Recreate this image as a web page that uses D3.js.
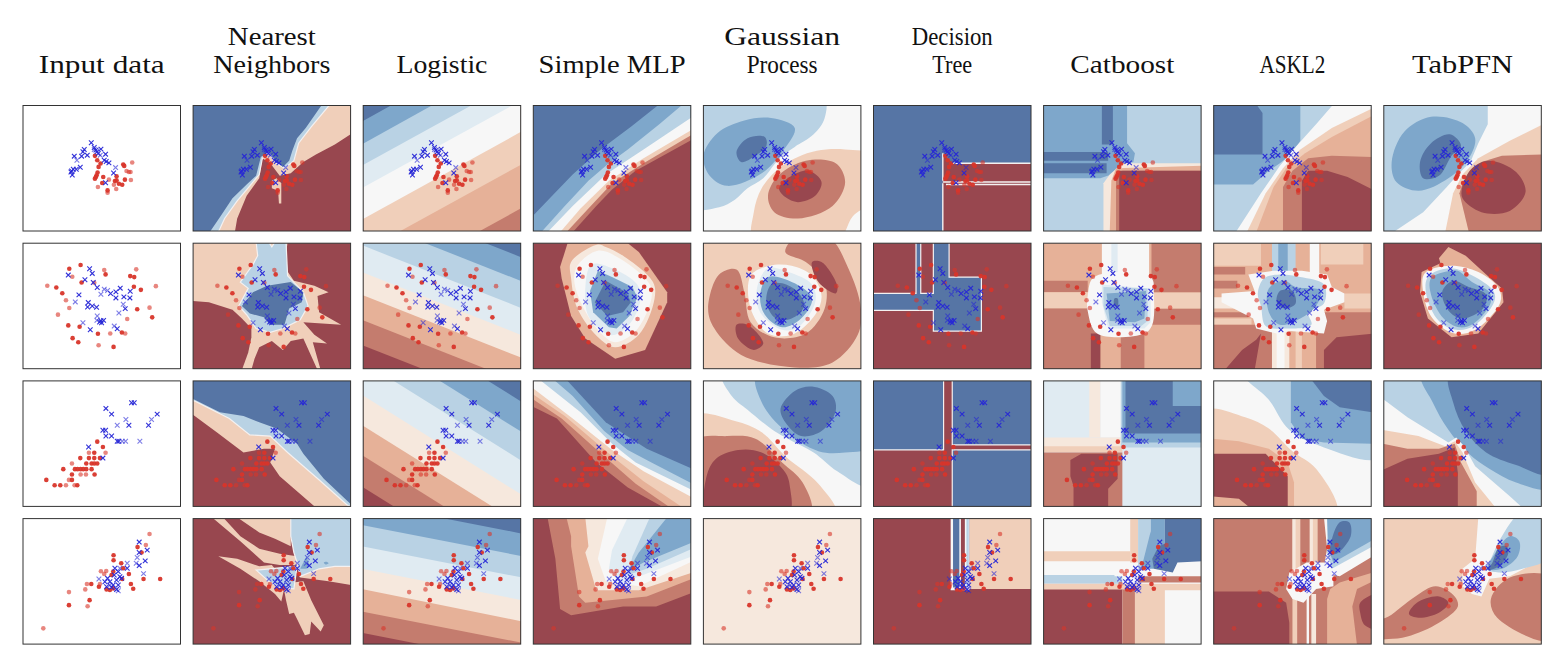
<!DOCTYPE html>
<html><head><meta charset="utf-8">
<script src="https://cdn.jsdelivr.net/npm/d3@7"></script>
<style>html,body{margin:0;padding:0;background:#fff}svg{display:block}</style>
</head><body><svg id="c" width="1567" height="666"></svg>
<script>
const titles=[["Input data"],["Nearest","Neighbors"],["Logistic"],["Simple MLP"],["Gaussian","Process"],["Decision","Tree"],["Catboost"],["ASKL2"],["TabPFN"]];
const titleWidths=[[126],[88,117],[91],[147],[116,71],[81,40],[104],[66],[101]];
const levelColors=["#98474f","#c47c6e","#e6b198","#f0cfba","#f6e8dd","#f7f7f7","#e0ebf2","#b9d2e4","#7ea7cb","#5675a5"];
const P=0,S=1,W=2,K=3;
const full=[-1,-1,101,-1,101,101,-1,101];
const rect=(a,b,c,d)=>[a,b,c,b,c,d,a,d];

/* scatter points, read in the units of the enlarged input-data panels */
const blue1=[[229,128],[238,142],[243,150],[246,155],[250,160],[258,147],[272,162],[268,180],[274,184],[282,188],[208,148],[204,155],[200,168],[217,165],[178,168],[196,201],[184,207],[175,207],[170,212],[172,224],[168,215],[272,247],[296,218]];
const blueT1=[[186,180],[238,148],[302,202],[256,165]];
const red1=[[240,167],[247,180],[257,190],[251,200],[325,193],[328,197],[248,217],[245,225],[240,235],[243,230],[265,230],[305,228],[305,240],[300,242],[262,248],[322,253],[330,238],[278,270],[312,250]];
const redT1=[[352,187],[335,212],[347,215],[342,215],[282,238],[348,239],[297,253],[304,266],[249,260],[278,277]];
const blue2=[[224,91],[232,105],[160,110],[210,124],[235,132],[247,147],[192,169],[287,165],[303,160],[316,149],[346,158],[327,175],[303,178],[345,178],[220,192],[218,205],[232,202],[245,206],[331,210],[226,273],[307,270],[258,246],[266,245],[260,252],[254,250]];
const blueT2=[[268,152],[278,156],[258,167],[181,190],[325,197],[312,223],[247,232],[246,245],[204,252],[298,262]];
const red2=[[163,91],[197,80],[272,108],[346,113],[358,116],[357,145],[378,154],[124,147],[142,164],[200,132],[367,212],[412,236],[160,260],[194,264],[249,285],[321,281],[173,298],[190,310],[296,324]];
const redT2=[[268,95],[172,115],[364,93],[97,142],[423,143],[153,185],[163,208],[404,207],[129,228],[337,241],[286,284],[331,284],[251,319],[238,133]];
const blue3=[[273,95],[290,112],[350,78],[358,78],[427,112],[342,145],[401,145],[264,160],[272,160],[273,177],[290,177],[307,193],[312,193],[221,210],[264,243]];
const blueT3=[[333,128],[410,128],[307,145],[332,193],[322,193],[375,193]];
const red3=[[247,194],[264,210],[238,227],[196,243],[222,243],[238,243],[255,243],[214,259],[230,259],[238,259],[247,259],[145,276],[180,276],[188,276],[197,276],[205,276],[214,276],[230,276],[171,292],[239,292],[94,308],[171,308],[119,324],[136,324],[187,324]];
const redT3=[[222,227],[272,227],[171,259],[197,292],[213,292],[162,308],[153,324],[179,324]];
const blue4=[[373,87],[397,111],[373,118],[391,143],[373,157],[300,165],[337,165],[278,195],[310,175],[315,190],[305,200],[285,205],[270,205],[295,215],[310,215],[275,220],[290,222],[305,228],[320,195],[298,185]];
const blueT4=[[367,133],[364,150],[337,150],[386,181],[252,197],[310,232],[285,215],[315,165]];
const red4=[[368,102],[296,126],[296,141],[319,150],[325,165],[295,175],[290,185],[342,182],[322,197],[229,212],[252,220],[348,212],[355,226],[386,197],[436,197],[275,228],[285,230],[295,225],[224,260],[162,275],[380,118]];
const redT4=[[404,63],[393,96],[258,174],[274,173],[268,182],[216,212],[211,228],[255,212],[162,236],[218,278],[85,344]];
const pointTop=[17,15,13,17];

/* decision regions: [level, outline kind, outline in % of the panel] painted in order */
const nn1=[[0,P,full],
 [3,P,[88,-1,101,-1,101,22,90,31,78,39,70,45,62,54,55,56,49,46,44,42,42,58,34,72,28,90,26.5,101,10,101,40,40]],
 [3,P,[50,60,53,58,56,62,56,78,54.5,78,54,68,50,66]],
 [7,W,[-1,-1,87,-1,75,17,67,30,64,44,58,50,53,46,48,38,44,42,42,55,36,64,28,76,20,90,16,101,-1,101]],
 [9,P,[-1,-1,82,-1,71.5,18,66,26,63,36,61,44,57,49,53,45,48,37,43,41,40,56,34,63,25,74,17,89,10.5,101,-1,101]]];
const log1=[[1,P,full],
 [2,P,[-1,-1,220,-1,-1,152]],[3,P,[-1,-1,170,-1,-1,117]],[5,P,[-1,-1,132,-1,-1,91]],
 [6,P,[-1,-1,96,-1,-1,66]],[7,P,[-1,-1,70,-1,-1,48]],[8,P,[-1,-1,45,-1,-1,31]],[9,P,[-1,-1,19,-1,-1,13]]];
const mlp1=[[9,P,full],
 [8,P,[-1,89,12,72,25,55,40,38,48,30,62,17,80,-1,101,-1,101,101,-1,101]],
 [7,P,[5,101,20,80,35,60,47,47,60,35,80,15,95,-1,101,-1,101,101]],
 [5,P,[9,101,25,80,46,55,70,35,101,9,101,101]],
 [3,P,[17,101,30,82,48,60,70,42,101,19,101,101]],
 [1,P,[21,101,35,82,50,62,70,46,101,23,101,101]],
 [0,P,[25,101,40,80,50,67,65,52,101,27,101,101]]];
const gp1=[[5,P,full],
 [7,S,[-8,-8,76,-8,77,10,70,23,58,33,50,40,45,47,38,58,28,66,20,75,10,81,-8,81]],
 [8,S,[26,12,43,10,58,18,50,37,37,54,15,64,4,56,0,40,9,22]],
 [9,S,[21,37,28,26,39,25,40,32,33,40,24,45]],
 [3,S,[32,108,32,85,37,66,48,50,60,41,72,36,90,35,108,40,108,75,95,88,85,108]],
 [1,S,[41,72,47.5,56,65,44,84,46,90,61,82,80,60,90,45,85]],
 [0,S,[48,66,56,56,67,52,75,61,71,72,60,77,52,73]]];
const dt1=[[9,P,full],
 [0,P,[44,38,47,42,50,46,101,46,101,101,44,101]],
 [0,K,[50,46,101,46]],[0,K,[44,61,101,61]],[0,K,[46,63,101,63]],[0,K,[44,62,44,101]],[0,K,[44,38,44,60]]];
const cat1=[[7,P,full],
 [8,P,[-1,-1,53,-1,53,30,58,38,57,45,50,47,43,55,36,58,-1,58]],
 [9,P,rect(37,-1,44,31)],[9,P,rect(-1,37,41,44)],[9,P,rect(-1,46,40,54)],
 [4,P,[38,101,38,62,42,55,50,46,101,46,101,101]],
 [2,P,[42,101,43,60,46,50,101,48,101,101]],
 [1,P,[46,101,46,55,50,52,101,52,101,101]],
 [0,P,[48,101,48,52,101,52,101,101]]];
const ask1=[[7,P,full],
 [8,P,[-1,-1,55,-1,55,28,50,38,42,46,35,52,25,63,-1,63]],
 [9,P,[-1,-1,27,-1,31,6,31,39,-1,39]],
 [5,P,[14,101,30,70,42,48,52,33,65,15,76,-1,101,-1,101,101]],
 [3,P,[21,101,33,70,44,50,55,35,75,18,101,2,101,101]],
 [2,P,[27,101,38,65,46,50,58,38,75,25,101,8,101,101]],
 [1,P,[44,101,44,65,50,52,60,42,75,40,101,41,101,101]],
 [0,P,[56,101,56,60,60,52,72,52,85,57,101,67,101,101]]];
const tab1=[[5,P,full],
 [7,P,[-1,-1,66,-1,66,15,60,30,55,45,47,55,40,65,25,85,6,101,-1,101]],
 [3,P,[39,101,44,70,50,55,60,42,80,28,101,15,101,101]],
 [1,P,[54,101,48,70,50,62,55,52,62,45,75,40,101,39,101,101]],
 [0,S,[67,44,84,53,90,69,80,84,62,85,50,74,50,64,56,50]],
 [8,S,[5,45,13,21,30,9,50,14,58,26,54,42,41,58,22,68,8,61]],
 [9,S,[23,45,30,30,42,23,49,32,43,40,35,56,25,58]]];

const nn2=[[3,P,full],
 [0,P,[60,-1,58,19,64,30,77,34,86,39,79,42,80,55,94,65,70,63,77,73,85,80,76,79,81,101,101,101,101,-1]],
 [0,P,[-1,46,10,47,25,53,31,60,37,68,37,75,35,87,31,101,-1,101]],
 [0,P,[37,101,39,92,42,83,50,78,57,85,62,78,70,76,79,101]],
 [7,W,[40,-1,41,10,38,17,30,31,35,36,29,50,34,57,40,68,49,71,57,68,68,61,73,50,70,39,60,26,59,-1,52,-1,50,3,48,-1]],
 [9,P,[31,50,38,39,47,34,62,31,70,39,69,47,61,52,58,65,49,65,45,59,36,56]]];
const log2=[[0,P,full],
 [1,P,[-1,81,101,131.5,101,-90,-1,-90]],[2,P,[-1,61,101,111.5,101,-90,-1,-90]],[4,P,[-1,41,101,91.5,101,-90,-1,-90]],
 [6,P,[-1,23,101,73.5,101,-90,-1,-90]],[7,P,[-1,1.5,101,52,101,-90,-1,-90]],[8,P,[-1,-20,101,30.5,101,-90,-1,-90]],[9,P,[-1,-39,101,11.5,101,-90,-1,-90]]];
const mlp2=[[0,P,full],
 [2,P,[22,-1,17,19,18,28,24,58,33,76,52,92,71,85,85,47,85,39,67,7,59,-1]],
 [4,S,[41,1,24,15,24,28,28,52,42,76,52,83,67,73,77,44,76,31,57,10,46,3]],
 [5,S,[41,6,28,18,26,30,32,52,44,73,52,79,65,70,75,44,74,33,56,13]],
 [6,S,[37,17,33,36,35,58,46,72,52,73,62,63,68,45,66,33,50,20]],
 [8,P,[41,22,36,38,38,55,48,67,53,68,61,58,66,43,63,35,50,27]],
 [9,P,[46,30,39,47,47,58,57,55,62,47,59,39]]];
const gp2=[[3,P,full],
 [1,S,[3,52,10,25,21,21,26,39,30,63,45,75,65,72,77,52,77,31,65,15,52,7,58,-4,80,-4,92,20,100,52,98,73,82,95,58,99,24,89,7,68]],
 [0,S,[69,15,75,15,85,34,84,40,73,31]],
 [0,S,[21,65,28,65,38,80,32,85,22,76]],
 [5,S,[42,18,30,26,30,52,41,72,56,73,71,57,75,42,69,26,56,18]],
 [6,S,[41,20,34,36,36,55,50,69,60,67,71,47,69,33,54,23]],
 [8,S,[41,27,36,42,39,57,50,67,62,60,69,44,58,32]],
 [9,S,[43,33,40,47,46,60,56,60,64,50,60,39,50,32]]];
const dt2=[[0,P,full],
 [9,W,[38,-1,48,-1,48,27,68.5,27,68.5,70,38,70,38,53.5,-1,53.5,-1,40,27,40,27,-1,30,-1,30,40,38,40]]];
const cat2=[[2,P,full],
 [1,P,rect(-1,30,28,39)],[3,P,rect(-1,39,30,52)],[1,P,rect(-1,52,101,101)],
 [2,P,rect(64,65,101,101)],[3,P,rect(68,39,101,52)],[1,P,rect(68.5,-1,101,39)],
 [5,P,rect(37,-1,67,30)],[6,P,rect(43,-1,47,30)],
 [2,P,rect(36,72,49,101)],[0,P,rect(30,72,36,101)],
 [5,S,[32,27,68,27,70,42,69,65,64,72,34,72,28,54,28,42]],
 [6,P,[37,33,68,36,68,63,64,68,41,68,37,47]],
 [7,P,[38,35,66,36,66,62,62,66,42,66,38,50]],
 [8,P,[40,40,65,38,64,60,58,63,42,62]],
 [9,S,[45,44,47,44,47,50,45,50]]];
const ask2=[[2,P,full],
 [3,P,rect(-1,-1,30,18)],[3,P,rect(68,-1,95,17)],[5,P,rect(61,-1,67,25)],
 [1,P,rect(-1,19,20,25)],[1,P,rect(-1,30,15,36)],[4,P,rect(-1,43,22,52)],[1,P,rect(-1,55,22,59)],[3,P,rect(-1,60,24,65)],
 [1,P,rect(-1,65,40,101)],[1,P,rect(65,55,101,101)],[3,P,rect(83,40,101,52)],
 [0,P,[7,101,18,85,27,77,30,72,26,101]],
 [0,P,[70,101,70,85,78,75,101,72,101,101]],
 [4,P,rect(37,70,48,101)],[5,P,rect(40,70,45,101)],[3,P,rect(52,70,56,101)],
 [7,P,rect(37,-1,52,28)],[8,P,rect(41,-1,47,25)],
 [5,P,[22,25,38,22,56,22,72,25,75,35,83,40,83,47,70,53,72,62,70,72,48,70,40,72,27,68,25,60,5,47,5,40,26,38]],
 [7,S,[32,28,42,25,55,27,70,33,70,48,60,55,62,65,45,68,33,66,30,50,28,40]],
 [8,S,[35,36,45,30,52,35,68,38,65,50,55,60,42,65,35,55]],
 [9,S,[42,38,50,38,52,48,45,52,40,47]]];
const tab2=[[0,P,full],
 [2,P,[41,3,35,12,36,16,24,23,23,39,28,60,43,75,60,72,76,47,75,36,65,25,52,10]],
 [5,S,[42,18,26,24,25,39,31,60,45,72,58,69,74,47,73,36,60,23]],
 [7,S,[42,20,28,27,27,41,35,62,46,69,57,66,70,47,70,39,58,27]],
 [8,S,[42,22,30,28,30,41,38,60,48,67,57,64,68,47,67,39,56,31,47,22]],
 [9,S,[44,30,37,39,42,55,50,60,63,52,65,41,54,35]]];

const nn3=[[0,P,full],
 [3,P,[-1,-1,101,-1,101,101,78,101,55,76,49,65,52,54,45,54,32,57,15,41,-1,26]],
 [7,W,[-1,16,1,16,23,30,36,43,49,44,60,57,81,80,98,99,101,101,101,-1,-1,-1]],
 [9,P,[-1,-1,101,-1,101,99,100,98,83,78,70,58,66,50,53,38,42,33,32,28,17,25,1,15,-1,14]]];
const log3=[[0,P,full],
 [1,P,[-1,84,101,164,101,-120,-1,-120]],[2,P,[-1,59,101,139,101,-120,-1,-120]],[4,P,[-1,35,101,115,101,-120,-1,-120]],
 [6,P,[-1,11,101,91,101,-120,-1,-120]],[7,P,[-1,-16,101,64,101,-120,-1,-120]],[8,P,[-1,-39,101,41,101,-120,-1,-120]],[9,P,[-1,-63,101,17,101,-120,-1,-120]]];
const mlp3=[[0,P,full],
 [1,P,[-1,20,15,30,40,65,60,85,83,101,101,101,101,-1,-1,-1]],
 [2,P,[-1,14,18,30,45,60,65,82,87,101,101,101,101,-1,-1,-1]],
 [3,P,[-1,10,20,28,50,60,70,80,95,101,101,101,101,-1,-1,-1]],
 [5,P,[-1,5,25,30,50,55,70,72,101,93,101,-1,-1,-1]],
 [7,P,[4,-1,30,25,50,50,65,65,101,87,101,-1]],
 [8,P,[13,-1,25,12,45,40,60,55,75,65,101,82,101,-1]],
 [9,P,[21,-1,46,33,72,54,101,70,101,-1]]];
const gp3=[[5,P,full],
 [7,S,[12,-6,18,12,28,23,45,40,55,47,70,57,85,72,106,84,106,-6]],
 [8,S,[34,-6,37,17,52,40,73,56,90,57,106,52,106,-6]],
 [9,S,[49,22,58,8,69,4.5,82,12,84,24,75,40,62,44,52,33]],
 [3,S,[-6,28,20,32,37,41,52,60,73,82,84,106,-6,106]],
 [1,S,[-6,48,15,44,33,46,50,65,63,81,68,106,-6,106]],
 [0,S,[2,76,8,62,22,55,37,57,52,73,55,85,54,106,3,106]]];
const dt3=[[9,P,full],
 [0,W,[44.5,-1,50,-1,50,51,101,51,101,55,50,55,50,101,-1,101,-1,55,44.5,55]]];
const cat3=[[6,P,full],
 [5,P,rect(36,-1,49,45)],[4,P,rect(29,-1,36,45)],[4,P,rect(-1,45,50,55)],[3,P,rect(-1,52,50,57)],
 [1,P,rect(-1,57,50,101)],
 [0,P,[17,63,24,58,47,58,47,78,41,86,41,101,19,101,19,84,17,76]],
 [7,P,rect(49,-1,101,53)],[8,P,rect(50,-1,101,49)],
 [9,P,[52,-1,82,-1,82,20,101,20,101,42,52,42]]];
const ask3=[[5,P,full],
 [7,S,[19,-6,35,15,48,39,70,53,106,61,106,-6]],
 [8,P,[49,-1,49,33,56,46,70,49,101,50,101,-1]],
 [9,P,[62,-1,70,12,80,21,101,25,101,-1]],
 [3,S,[-6,24,20,29,35,38,50,56,65,70,78,106,-6,106]],
 [2,P,[-1,46,16,48,35,54,47,65,51,81,51,101,-1,101]],
 [0,P,[-1,58,33,58,47,76,47,101,23,101,16,94,-1,92]]];
const tab3=[[7,P,full],
 [8,S,[24,-6,31,17,41,39,54,58,67,70,84,81,106,85,106,-6]],
 [9,S,[42,-6,44,17,52,40,65,57,84,67,106,74,106,-6]],
 [5,P,[-1,14,15,29,41,49,46,45,51,52,58,68,80,92,88,101,-1,101]],
 [3,P,[-1,39,22,44,39,52,45,48,50,57,58,81,71,101,-1,101]],
 [1,P,[-1,50,15,54,35,54,45,50,49,65,59,88,59,101,-1,101]],
 [0,P,[-1,71,15,62,35,58,45,53,47,73,47,101,-1,101]]];

const nn4=[[0,P,full],
 [3,P,[28,-1,62,-1,62,22,52,16,42,11]],
 [3,P,[12,-1,19,-1,30,14,42,24,55,28,66,30,70,37,55,37,45,35,30,18]],
 [3,P,[16,30,28,32,42,38,50,37,55,45,52,48,58,55,56,66,52,60,42,50,30,40]],
 [3,P,[57,52,70,50,75,65,83,85,81,90,75,82,74,92,71,93,66,80,64,75,61,76,59,65]],
 [3,P,[66,43,81,38,101,38,101,53,86,50,68,47]],
 [7,W,[62,-1,101,-1,101,38,90,38,80,40,68,46,66,35,64,27,62,14]],
 [7,W,[40,41,66,38,64,56,55,55,48,50]],
 [8,P,[68,40,72,30,74,38,72,40]],
 [8,S,[83,35,85,34.5,86,35.5,84,36.5]]];
const log4=[[0,P,full],
 [1,P,[-1,91,101,116,101,-50,-1,-50]],[2,P,[-1,74,101,99,101,-50,-1,-50]],[4,P,[-1,56,101,82,101,-50,-1,-50]],
 [6,P,[-1,40,101,65,101,-50,-1,-50]],[7,P,[-1,22,101,47,101,-50,-1,-50]],[8,P,[-1,5,101,30,101,-50,-1,-50]],[9,P,[-1,-13,101,12,101,-50,-1,-50]]];
const mlp4=[[0,P,full],
 [1,P,[9,-1,14,32,17,72,24,77,57,70,78,70,101,59,101,-1]],
 [2,P,[21,-1,24,14,24,22,29,62,33,67,72,62,101,48,101,-1]],
 [4,P,[33,-1,35,22,33,27,40,57,67,57,101,43,101,-1]],
 [5,P,[47,-1,41,32,46,50,67,54,101,34,101,-1]],
 [6,P,[60,-1,50,25,48,40,55,52,101,30,101,-1]],
 [7,P,[74,-1,63,30,60,45,72,40,101,24,101,-1]],
 [8,P,[85,-1,67,27,60,42,70,35,101,19,101,-1]]];
const gp4=[[4,P,full]];
const dt4=[[0,P,full],
 [3,P,rect(61,-1,101,56)],[5,P,rect(49,-1,61,57)],[9,P,rect(50.5,-1,54.5,55)],[0,P,rect(55.5,-1,58,55)],[7,P,rect(59,-1,60.5,55)]];
const cat4=[[5,P,full],
 [3,P,rect(-1,26,55,34)],[7,P,rect(-1,45,45,52)],[3,P,rect(-1,52,101,57)],[1,P,rect(60,46,101,51)],
 [0,P,rect(-1,56.5,50,101)],[1,P,rect(50,56.5,58,101)],[3,P,rect(58,56.5,77,101)],
 [3,P,rect(55,-1,60,35)],[7,P,rect(60,-1,68,40)],
 [8,P,[68,-1,77,-1,77,20,70,40,62,40,68,10]],
 [9,P,[77,-1,101,-1,101,34,85,35,82,43,70,40,69,32,73,22,77,20]],
 [7,P,[43,46,50,46,50,52,43,52]]];
const ask4=[[1,P,full],
 [0,P,[-1,58,35,58,46,67,48,83,48,101,-1,101]],
 [0,S,[93,75,93,67,105,60,105,88,96,85]],
 [3,P,rect(50,-1,55,45)],[4,P,rect(50,-1,52,45)],[3,P,rect(61,-1,66,45)],[4,P,rect(61,-1,63,45)],
 [3,P,rect(50,60,53,101)],[5,P,rect(59,60,60.5,101)],[4,P,rect(62,60,65,101)],
 [2,P,[74,56,80,51,101,43,101,50,91,56,88,70,91,101,72,101,72,64]],
 [5,P,[70,-1,72,24,70,38,72,44,80,46,101,30,101,-1]],
 [7,P,[72,-1,72,27,75,40,101,22,101,-1]],
 [8,P,[72,-1,73,25,76,35,101,17,101,-1]],
 [9,S,[74,22,80,3,86,3,87,14,78,28,74,28]],
 [5,P,[48,43,59,35,70,35,76,43,76,54,65,56,57,67,50,64,46,56]]];
const tab4=[[3,P,full],
 [5,P,[60,-1,58,32,50,40,50,54,56,60,62,62,67,48,80,46,101,32,101,-1]],
 [7,S,[88,-6,106,-6,106,30,88,40,73,43,65,40,68,32,75,14]],
 [8,S,[80,14,86,18,85,30,75,40,66,40,71,27]],
 [9,S,[73,23,78,22,79,28,73,38,66,41,69,35]],
 [1,S,[-6,83,3,78,20,62,33,54,45,62,47,70,35,83,15,94,3,96,-6,95]],
 [0,S,[16,76,21,67,35,62,41,67,35,75,22,79]],
 [1,S,[106,47,80,47,68,64,72,79,106,97]]];
const empty=[[-1,P,full]];

const surfaces=[[empty,nn1,log1,mlp1,gp1,dt1,cat1,ask1,tab1],[empty,nn2,log2,mlp2,gp2,dt2,cat2,ask2,tab2],[empty,nn3,log3,mlp3,gp3,dt3,cat3,ask3,tab3],[empty,nn4,log4,mlp4,gp4,dt4,cat4,ask4,tab4]];
const pointSets=[[red1,redT1,blue1,blueT1],[red2,redT2,blue2,blueT2],[red3,redT3,blue3,blueT3],[red4,redT4,blue4,blueT4]];

const x0=23,pitchX=170.1,w=157.5,y0=105.5,pitchY=137.7,h=125.5;
const svg=d3.select("#c");
const defs=svg.append("defs");
defs.append("clipPath").attr("id","pc").append("rect").attr("width",w).attr("height",h);
const sx=d3.scaleLinear().domain([0,100]).range([0,w]);
const sy=d3.scaleLinear().domain([0,100]).range([0,h]);
const pts=f=>d3.pairs(f).filter((_,i)=>i%2===0).map(([a,b])=>[sx(a),sy(b)]);
const lineP=d3.line().curve(d3.curveLinearClosed);
const lineS=d3.line().curve(d3.curveCatmullRomClosed.alpha(0.5));
const lineK=d3.line();
const sym=d3.symbol().type(d3.symbolTimes).size(16);

titles.forEach((t,c)=>{
  const cx=x0+c*pitchX+w/2;
  const ys=t.length===2?[45,73]:[73];
  t.forEach((s,i)=>svg.append("text").attr("x",cx).attr("y",ys[i]).attr("text-anchor","middle")
    .attr("font-family","'Liberation Serif',serif").attr("font-size",26).attr("fill","#111")
    .attr("textLength",titleWidths[c][i]).attr("lengthAdjust","spacingAndGlyphs").text(s));
});

surfaces.forEach((row,r)=>row.forEach((layers,c)=>{
  const g=svg.append("g").attr("transform",`translate(${x0+c*pitchX},${y0+r*pitchY})`);
  const inner=g.append("g").attr("clip-path","url(#pc)");
  layers.forEach(([lvl,kind,f])=>{
    if(kind===K){inner.append("path").attr("d",lineK(pts(f))).attr("fill","none").attr("stroke","#f4f1f1").attr("stroke-width",1.4);return;}
    const p=inner.append("path").attr("d",(kind===S?lineS:lineP)(pts(f))).attr("fill",lvl<0?"#fff":levelColors[lvl]);
    if(kind===W)p.attr("stroke","#f4f1f1").attr("stroke-width",1.2);
  });
  const px=d3.scaleLinear().domain([24,497]).range([0,w]);
  const py=d3.scaleLinear().domain([pointTop[r],pointTop[r]+374]).range([0,h]);
  const [red,redT,blue,blueT]=pointSets[r];
  const circles=(data,op)=>inner.selectAll(null).data(data).join("circle").attr("cx",d=>px(d[0])).attr("cy",d=>py(d[1])).attr("r",2.3).attr("fill","#d8352a").attr("opacity",op);
  const crosses=(data,op)=>inner.selectAll(null).data(data).join("path").attr("d",sym).attr("transform",d=>`translate(${px(d[0])},${py(d[1])})`).attr("fill","none").attr("stroke","#2626d6").attr("stroke-width",1.1).attr("opacity",op);
  circles(redT,.6);circles(red,.95);crosses(blueT,.6);crosses(blue,.95);
  g.append("rect").attr("width",w).attr("height",h).attr("fill","none").attr("stroke","#333").attr("stroke-width",1);
}));
</script></body></html>
